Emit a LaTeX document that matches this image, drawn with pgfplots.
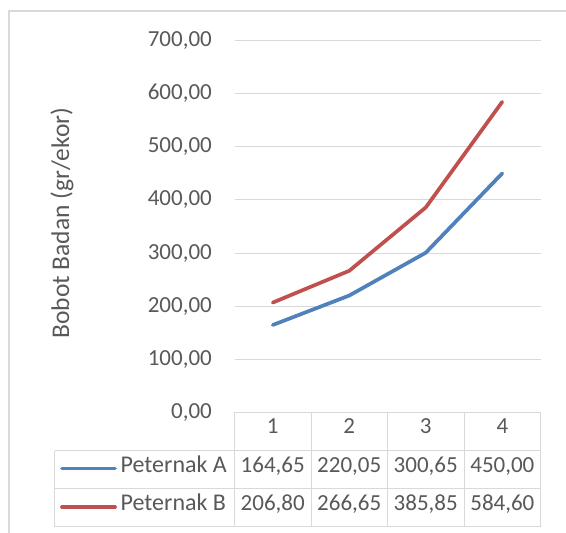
\documentclass[border=0pt]{standalone}
\usepackage{pgfplots}
\pgfplotsset{compat=1.18}
\usepackage{fontspec}
\setmainfont{Carlito}
\definecolor{txt}{HTML}{595959}
\definecolor{gridc}{HTML}{D9D9D9}
\definecolor{serA}{HTML}{4F81BD}
\definecolor{serB}{HTML}{C0504D}
\newcommand{\cf}{\fontsize{23bp}{27bp}\selectfont}
\newcommand{\lf}{\fontsize{24bp}{28bp}\selectfont}
\newcommand{\af}{\fontsize{25.5bp}{30bp}\selectfont}
\begin{document}
\begin{tikzpicture}[x=1bp,y=1bp]
\useasboundingbox (0,0) rectangle (566,533);
\fill[white] (0,0) rectangle (566,533);
% chart border
\draw[gridc, line width=1.5bp] (9,0) -- (9,522) -- (566,522);
\begin{axis}[
  at={(234.5bp,120.5bp)}, anchor=south west,
  scale only axis, width=306bp, height=372bp,
  xmin=0.5, xmax=4.5, ymin=0, ymax=700,
  xtick=\empty,
  ytick={0,100,...,700},
  ymajorgrids, grid style={gridc, line width=1bp},
  axis line style={draw=none},
  major tick length=0pt,
  tick label style={font=\cf, text=txt},
  yticklabel style={inner sep=0pt, anchor=east, xshift=-22.5bp,
    /pgf/number format/.cd, fixed, fixed zerofill, precision=2, use comma, 1000 sep={}, assume math mode=true},
  ylabel={Bobot Badan (gr/ekor)},
  every axis y label/.style={at={(axis description cs:-0.5637,0.509)}, rotate=90, anchor=center, font=\af, text=txt},
  clip=false,
]
\addplot[serB, line width=3.7bp, line cap=round, line join=round] coordinates {(1,206.80) (2,266.65) (3,385.85) (4,584.60)};
\addplot[serA, line width=3.7bp, line cap=round, line join=round] coordinates {(1,164.65) (2,220.05) (3,300.65) (4,450.00)};
\end{axis}
% data table
\begin{scope}[gridc, line width=1bp]
\draw (234.5,120.5) -- (540.7,120.5);
\draw (54.7,82.3) -- (540.7,82.3);
\draw (54.7,44) -- (540.7,44);
\draw (54.7,6) -- (540.7,6);
\draw (54.7,82.3) -- (54.7,6);
\foreach \xx in {234.5,311,387.5,464,540.7} \draw (\xx,120.5) -- (\xx,6);
\end{scope}
\begin{scope}[every node/.style={font=\cf, text=txt, inner sep=0pt, anchor=mid}]
\node at (272.75,101.4) {1};
\node at (349.25,101.4) {2};
\node at (425.75,101.4) {3};
\node at (502.35,101.4) {4};
\node at (272.75,63.15) {164,65};
\node at (349.25,63.15) {220,05};
\node at (425.75,63.15) {300,65};
\node at (502.35,63.15) {450,00};
\node at (272.75,25) {206,80};
\node at (349.25,25) {266,65};
\node at (425.75,25) {385,85};
\node at (502.35,25) {584,60};
\node[anchor=mid west, font=\lf] at (120.5,63.15) {Peternak A};
\node[anchor=mid west, font=\lf] at (120.5,25) {Peternak B};
\end{scope}
\draw[serA, line width=3.7bp, line cap=round] (62,64.5) -- (115,64.5);
\draw[serB, line width=3.7bp, line cap=round] (62,26) -- (115,26);
\end{tikzpicture}
\end{document}
